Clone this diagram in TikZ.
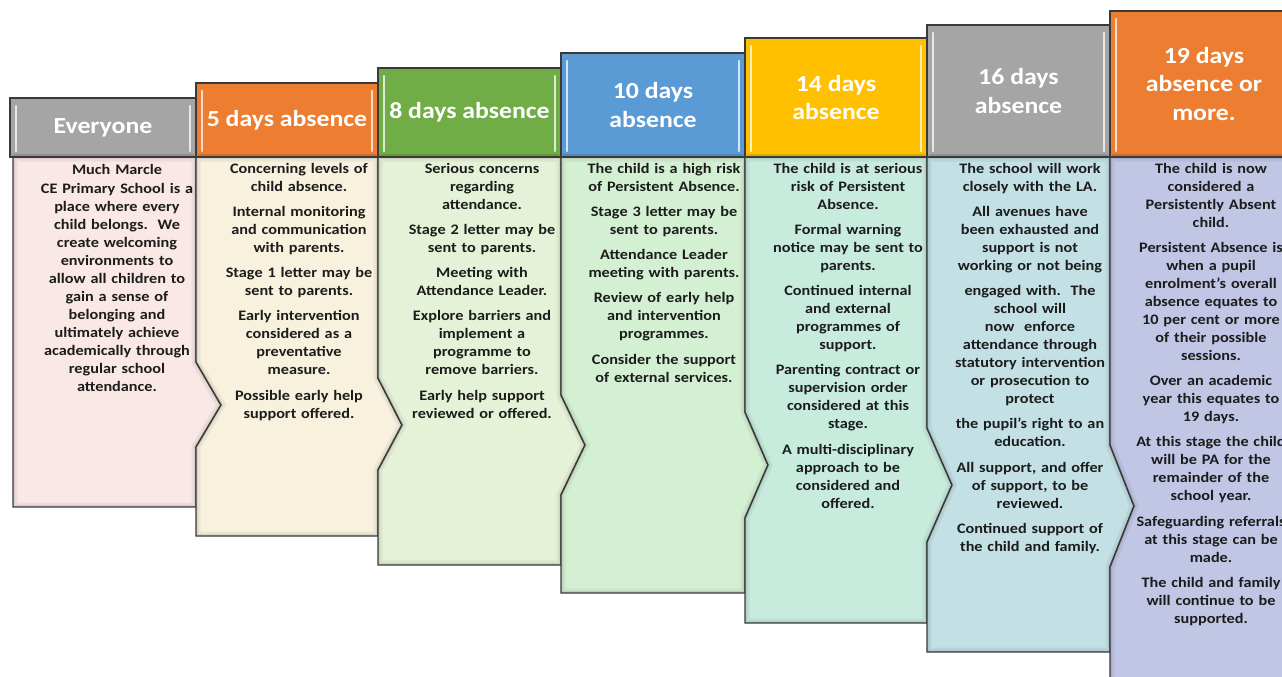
\documentclass[tikz,border=0pt]{standalone}
\usepackage{fontspec}
\setmainfont{Carlito}[FakeStretch=1.12]
\definecolor{hgray}{HTML}{A5A5A5}
\definecolor{horange}{HTML}{ED7D31}
\definecolor{hgreen}{HTML}{70AD47}
\definecolor{hblue}{HTML}{5B9BD5}
\definecolor{hgold}{HTML}{FFC000}
\definecolor{bpink}{HTML}{F9E8E5}
\definecolor{bcream}{HTML}{F7F1DE}
\definecolor{blgreen}{HTML}{E6F2D7}
\definecolor{bgreen}{HTML}{D3F0D2}
\definecolor{bmint}{HTML}{C7ECDD}
\definecolor{bblue}{HTML}{C3E0E5}
\definecolor{blav}{HTML}{C0C6E4}
\definecolor{edge}{HTML}{3A3A3A}
\definecolor{bodyink}{HTML}{1C1C1C}
\tikzset{
  bodyline/.style={draw=edge, line width=1.4pt, line join=miter},
  headline/.style={draw=edge, line width=1.4pt},
  headtext/.style={text=white, align=center, inner sep=0pt,
    font=\bfseries\fontsize{23}{28.5}\selectfont},
  bodytext/.style={text=bodyink, align=center, text width=176pt, inner sep=0pt,
    anchor=base, font=\bfseries\fontsize{14.5}{18}\selectfont},
}
\newcommand\stagebody[2]{%
  \fill[#1] #2;
  \begin{scope}
    \clip #2;
    \draw[line width=9pt, black, opacity=0.05] #2;
    \draw[line width=4pt, black, opacity=0.07] #2;
  \end{scope}
  \draw[bodyline] #2;}
\newcommand\stagehead[6]{% name, color, left, top, right, text
  \fill[#2] (#3,#4) rectangle (#5,157);
  \draw[white, opacity=.75, line width=2.4pt, line cap=round] (#3+6,#4+8) -- (#3+6,151);
  \draw[white, opacity=.75, line width=2.4pt, line cap=round] (#5-6,#4+8) -- (#5-6,151);
  \draw[black, opacity=.12, line width=2pt] (#3+2,155) -- (#5-2,155);
  \draw[headline] (#3,#4) rectangle (#5,157);
  \node[headtext] (#1) at ({(#3+#5)/2},{(#4+157)/2}) {#6};}
\newcommand\pgap{\\[7.3pt]}
\begin{document}
\begin{tikzpicture}[x=1pt,y=-1pt]
\useasboundingbox (0,0) rectangle (1282,677);
\clip (0,0) rectangle (1282,677);
\fill[white] (0,0) rectangle (1282,677);

% bodies
\stagebody{bpink}{(13,157) -- (196,157) -- (196,362) -- (221,405) -- (196,447) -- (196,507) -- (13,507) -- cycle}
\stagebody{bcream}{(196,157) -- (378,157) -- (378,378) -- (402,425) -- (378,470) -- (378,536) -- (196,536) -- (196,447) -- (221,405) -- (196,362) -- cycle}
\stagebody{blgreen}{(378,157) -- (561,157) -- (561,395) -- (585,445) -- (561,495) -- (561,565) -- (378,565) -- (378,470) -- (402,425) -- (378,378) -- cycle}
\stagebody{bgreen}{(561,157) -- (745,157) -- (745,412) -- (768,465) -- (745,518) -- (745,593) -- (561,593) -- (561,495) -- (585,445) -- (561,395) -- cycle}
\stagebody{bmint}{(745,157) -- (927,157) -- (927,428) -- (952,485) -- (927,542) -- (927,623) -- (745,623) -- (745,518) -- (768,465) -- (745,412) -- cycle}
\stagebody{bblue}{(927,157) -- (1110,157) -- (1110,445) -- (1134,506) -- (1110,567) -- (1110,652) -- (927,652) -- (927,542) -- (952,485) -- (927,428) -- cycle}
\stagebody{blav}{(1110,157) -- (1298,157) -- (1298,684) -- (1110,684) -- (1110,567) -- (1134,506) -- (1110,445) -- cycle}

% headers
\stagehead{h1}{hgray}{10}{98}{196}{Everyone}
\stagehead{h2}{horange}{196}{83}{378}{5 days absence}
\stagehead{h3}{hgreen}{378}{68}{561}{8 days absence}
\stagehead{h4}{hblue}{561}{53}{745}{10 days\\absence}
\stagehead{h5}{hgold}{745}{38}{927}{14 days\\absence}
\stagehead{h6}{hgray}{927}{25}{1110}{16 days\\absence}
\stagehead{h7}{horange}{1110}{11}{1298}{19 days\\absence or\\more.}

% body texts
\node[bodytext] (t1) at (117,174) {Much Marcle\\[1pt]CE Primary School is a\\place where every\\child belongs.\ \ We\\create welcoming\\environments to\\allow all children to\\gain a sense of\\belonging and\\ultimately achieve\\academically through\\regular school\\attendance.};
\node[bodytext] (t2) at (299,173) {Concerning levels of\\child absence.\pgap Internal monitoring\\and communication\\with parents.\pgap Stage 1 letter may be\\sent to parents.\pgap Early intervention\\considered as a\\preventative\\measure.\pgap Possible early help\\support offered.};
\node[bodytext] (t3) at (482,173) {Serious concerns\\regarding\\attendance.\pgap Stage 2 letter may be\\sent to parents.\pgap Meeting with\\Attendance Leader.\pgap Explore barriers and\\implement a\\programme to\\remove barriers.\pgap Early help support\\reviewed or offered.};
\node[bodytext] (t4) at (664,173) {The child is a high risk\\of Persistent Absence.\pgap Stage 3 letter may be\\sent to parents.\pgap Attendance Leader\\meeting with parents.\pgap Review of early help\\and intervention\\programmes.\pgap Consider the support\\of external services.};
\node[bodytext] (t5) at (848,173) {The child is at serious\\risk of Persistent\\Absence.\pgap Formal warning\\notice may be sent to\\parents.\pgap Continued internal\\and external\\programmes of\\support.\pgap Parenting contract or\\supervision order\\considered at this\\stage.\pgap A multi-disciplinary\\approach to be\\considered and\\offered.};
\node[bodytext] (t6) at (1030,173) {The school will work\\closely with the LA.\pgap All avenues have\\been exhausted and\\support is not\\working or not being\pgap engaged with.\ \ The\\school will\\now\ \ enforce\\attendance through\\statutory intervention\\or prosecution to\\protect\pgap the pupil’s right to an\\education.\pgap All support, and offer\\of support, to be\\reviewed.\pgap Continued support of\\the child and family.};
\node[bodytext] (t7) at (1211,173) {The child is now\\considered a\\Persistently Absent\\child.\pgap Persistent Absence is\\when a pupil\\enrolment’s overall\\absence equates to\\10 per cent or more\\of their possible\\sessions.\pgap Over an academic\\year this equates to\\19 days.\pgap At this stage the child\\will be PA for the\\remainder of the\\school year.\pgap Safeguarding referrals\\at this stage can be\\made.\pgap The child and family\\will continue to be\\supported.};
\end{tikzpicture}
\end{document}
